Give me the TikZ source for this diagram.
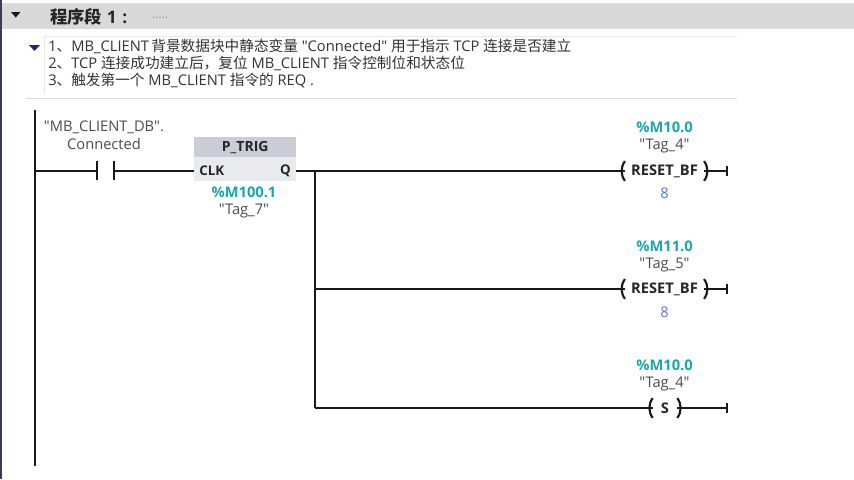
\documentclass[tikz,border=0pt]{standalone}
\usepackage{fontspec}
\setmainfont{Open Sans}[Ligatures=TeXOff]
\newfontfamily\cjk{Noto Sans CJK SC}
\usepackage{xcolor}
\usepackage{tikz}
\usetikzlibrary{arrows,positioning}
\definecolor{headgray}{HTML}{D9D9D9}
\definecolor{tealaddr}{HTML}{1FA5A8}
\definecolor{bluenum}{HTML}{5A78D8}
\definecolor{boxgray}{HTML}{E9EAEE}
\definecolor{boxhead}{HTML}{CBCDD6}
\definecolor{linegray}{HTML}{D5D8E6}
\definecolor{navytri}{HTML}{1A2A6C}
\definecolor{edgedark}{HTML}{3A3F4F}
\tikzset{
	rung/.style={line width=1.6pt, black!90},
	rail/.style={line width=2.2pt, black!90},
	tagtext/.style={font=\fontsize{11}{12}\selectfont, text=black!70, inner sep=0pt},
	addr/.style={font=\bfseries\fontsize{11}{12}\selectfont, text=tealaddr, inner sep=0pt},
	coil/.style={font=\bfseries\fontsize{11}{12}\selectfont, text=black!85, inner xsep=4.5pt, inner ysep=0pt, minimum height=14.5pt},
	pin/.style={font=\bfseries\fontsize{10}{11}\selectfont, text=black!85, inner sep=0pt},
	comment/.style={font=\fontsize{11}{12}\selectfont, text=black!80, inner sep=0pt, anchor=west},
	number/.style={font=\fontsize{11}{12}\selectfont, text=bluenum, inner sep=0pt},
}
\newcommand{\cc}[1]{{\cjk #1}}
\newcommand{\dq}{\symbol{34}}
\newcommand{\coilparens}[1]{
	\draw[rung] (#1.north west) to[bend right=35] (#1.south west);
	\draw[rung] (#1.north east) to[bend left=35] (#1.south east);
}
\begin{document}
\begin{tikzpicture}[x=0.75pt, y=-0.75pt, >=latex]
	\useasboundingbox (0,0) rectangle (854,479);
	\fill[white] (0,0) rectangle (854,479);
	% header
	\node[fill=headgray, minimum width=641pt, minimum height=19.5pt, inner sep=0pt, anchor=north west] (head) at (0,3) {};
	\draw[line width=1.2pt, edgedark] (0.8,0) -- (0.8,479);
	\node[font=\bfseries\fontsize{13}{14}\selectfont, text=black!85, inner sep=0pt, anchor=west] (title) at (50,17) {\cc{程序段} 1\,\,:};
	\node[font=\fontsize{9}{10}\selectfont, text=black!40, inner sep=0pt, anchor=west] (dots) at (152,18) {.....};
	\fill[black!90] (11,12) -- (20.5,12) -- (15.75,17.5) -- cycle;
	% comment
	\fill[navytri] (29,45) -- (40,45) -- (34.5,51) -- cycle;
	\draw[linegray!60] (44.5,94) -- (44.5,36) -- (737,36);
	\draw[linegray] (26,98.5) -- (737,98.5);
	\node[comment] (l1) at (48,46) {1\cc{、}MB\_CLIENT\,\cc{背景数据块中静态变量} \dq Connected\dq{} \cc{用于指示} TCP \cc{连接是否建立}};
	\node[comment] (l2) at (48,63.5) {2\cc{、}TCP \cc{连接成功建立后，复位} MB\_CLIENT \cc{指令控制位和状态位}};
	\node[comment] (l3) at (48,81) {3\cc{、}\cc{触发第一个} MB\_CLIENT \cc{指令的} REQ .};
	% left rail
	\coordinate (railtop) at (35,110);
	\coordinate (railbot) at (35,466);
	\coordinate (r0) at (35,171);
	\draw[rail] (railtop) -- (railbot);
	% contact
	\node[tagtext, align=center] (dbname) at (104,135.5) {\dq MB\_CLIENT\_DB\dq.\\[1.5pt]Connected};
	\coordinate (k0) at (97,171);
	\coordinate (k1) at (114,171);
	\draw[rung] (97,160.5) -- (97,180);
	\draw[rung] (114,160.5) -- (114,180);
	% P_TRIG
	\node[fill=boxgray, minimum width=76.5pt, minimum height=33pt, inner sep=0pt, anchor=north west] (ptrig) at (194,137) {};
	\node[fill=boxhead, minimum width=76.5pt, minimum height=15pt, inner sep=0pt, anchor=north west, font=\bfseries\fontsize{10.5}{11}\selectfont, text=black!85] (ptrighead) at (194,137) {P\_TRIG};
	\node[pin, anchor=west] (clk) at (199,171) {CLK};
	\node[pin, anchor=east] (q) at (291,171) {Q};
	\node[addr] (m100) at (244,192) {\%M100.1};
	\node[tagtext] (tag7) at (244,211) {\dq Tag\_7\dq};
	\coordinate (ptrigin) at (194,171);
	\coordinate (ptrigout) at (296,171);
	% branch
	\coordinate (j0) at (315,171);
	\coordinate (j1) at (315,289);
	\coordinate (j2) at (315,408);
	% coils
	\node[coil] (c0) at (664.5,171) {RESET\_BF};
	\node[coil] (c1) at (664.5,289) {RESET\_BF};
	\node[coil, inner xsep=6pt] (c2) at (665,408) {S};
	\coilparens{c0}
	\coilparens{c1}
	\coilparens{c2}
	\node[addr] (a0) at (664.5,127) {\%M10.0};
	\node[tagtext] (t0) at (664.5,146) {\dq Tag\_4\dq};
	\node[number] (n0) at (664.5,193) {8};
	\node[addr] (a1) at (664.5,246) {\%M11.0};
	\node[tagtext] (t1) at (664.5,265) {\dq Tag\_5\dq};
	\node[number] (n1) at (664.5,312) {8};
	\node[addr] (a2) at (664.5,365) {\%M10.0};
	\node[tagtext] (t2) at (664.5,384) {\dq Tag\_4\dq};
	% ends
	\coordinate (e0) at (727,171);
	\coordinate (e1) at (727,289);
	\coordinate (e2) at (727,408);
	% wires
	\draw[rung] (r0) -- (k0);
	\draw[rung] (k1) -- (ptrigin);
	\draw[rung] (ptrigout) -- (j0);
	\draw[rung] (j0) -- (j2);
	\draw[rung] (j0) -- (c0.west);
	\draw[rung] (j1) -- (c1.west);
	\draw[rung] (j2) -- (c2.west);
	\draw[rung] (c0.east) -- (e0);
	\draw[rung] (c1.east) -- (e1);
	\draw[rung] (c2.east) -- (e2);
	\draw[rung] (727,165.5) -- (727,175.5);
	\draw[rung] (727,284) -- (727,294);
	\draw[rung] (727,403) -- (727,413);
\end{tikzpicture}
\end{document}
